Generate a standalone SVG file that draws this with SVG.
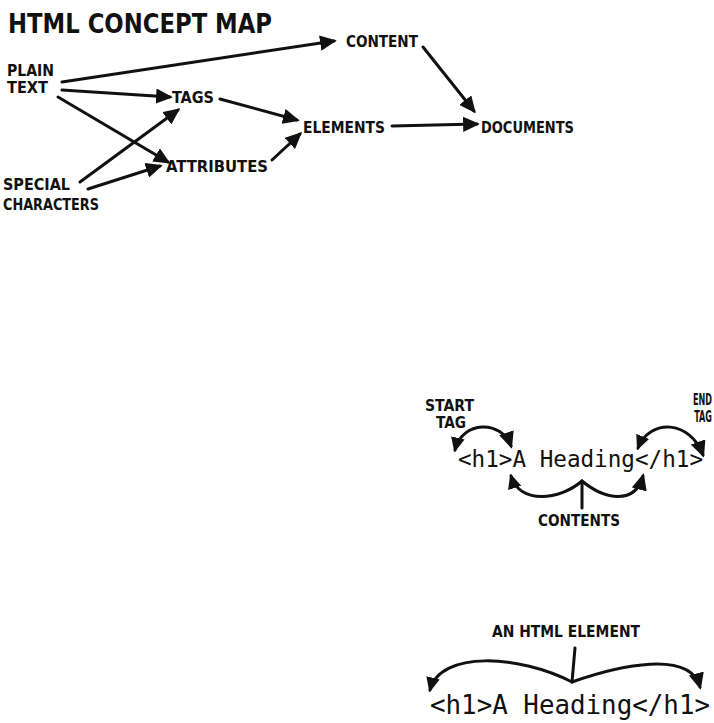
<svg xmlns="http://www.w3.org/2000/svg" width="714" height="723" viewBox="0 0 714 723">
<style>
.lbl{font-family:"DejaVu Sans Condensed","DejaVu Sans",sans-serif;font-weight:bold;fill:#111;font-size:15px}
.ttl{font-family:"DejaVu Sans Condensed","DejaVu Sans",sans-serif;font-weight:bold;fill:#111;font-size:27px}
.code{font-family:"DejaVu Sans Mono","Liberation Mono",monospace;fill:#111}
.c{fill:none;stroke:#111;stroke-width:3;stroke-linecap:round}
</style>
<defs>
<marker id="ah" viewBox="0 0 12 11" refX="10" refY="5.5" markerWidth="5.6" markerHeight="5.1" orient="auto" markerUnits="strokeWidth">
<path d="M0,0 L12,5.5 L0,11 Z" fill="#111"/>
</marker>
<marker id="ahs" viewBox="0 0 12 11" refX="10" refY="5.5" markerWidth="5" markerHeight="4.6" orient="auto-start-reverse" markerUnits="strokeWidth">
<path d="M0,0 L12,5.5 L0,11 Z" fill="#111"/>
</marker>
</defs>
<rect width="714" height="723" fill="#fff"/>
<text class="ttl" x="8" y="33" textLength="264" lengthAdjust="spacingAndGlyphs">HTML CONCEPT MAP</text>
<g id="plain-text"><text class="lbl" x="7" y="76" textLength="47" lengthAdjust="spacingAndGlyphs">PLAIN</text><text class="lbl" x="7" y="93" textLength="41" lengthAdjust="spacingAndGlyphs">TEXT</text></g>
<g id="content"><text class="lbl" x="346" y="47" textLength="72" lengthAdjust="spacingAndGlyphs">CONTENT</text></g>
<g id="tags"><text class="lbl" x="172" y="103" textLength="42" lengthAdjust="spacingAndGlyphs">TAGS</text></g>
<g id="elements"><text class="lbl" x="303" y="133" textLength="82" lengthAdjust="spacingAndGlyphs">ELEMENTS</text></g>
<g id="documents"><text class="lbl" x="481" y="133" textLength="93" lengthAdjust="spacingAndGlyphs">DOCUMENTS</text></g>
<g id="attributes"><text class="lbl" x="166" y="172" textLength="102" lengthAdjust="spacingAndGlyphs">ATTRIBUTES</text></g>
<g id="special-characters"><text class="lbl" x="3" y="190" textLength="67" lengthAdjust="spacingAndGlyphs">SPECIAL</text><text class="lbl" x="3" y="210" textLength="96" lengthAdjust="spacingAndGlyphs">CHARACTERS</text></g>
<g id="connectors">
<line class="c" x1="62" y1="82" x2="334" y2="41" marker-end="url(#ah)"/>
<line class="c" x1="62" y1="90" x2="170" y2="97" marker-end="url(#ah)"/>
<line class="c" x1="58" y1="97" x2="168" y2="162" marker-end="url(#ah)"/>
<line class="c" x1="80" y1="182" x2="178" y2="110" marker-end="url(#ah)"/>
<line class="c" x1="88" y1="189" x2="160" y2="166" marker-end="url(#ah)"/>
<line class="c" x1="220" y1="99" x2="297" y2="120" marker-end="url(#ah)"/>
<line class="c" x1="272" y1="160" x2="300" y2="134" marker-end="url(#ah)"/>
<line class="c" x1="423" y1="47" x2="474" y2="111" marker-end="url(#ah)"/>
<line class="c" x1="392" y1="126" x2="477" y2="124" marker-end="url(#ah)"/>
</g>
<g id="element-anatomy">
<text class="lbl" x="425" y="411" textLength="49" lengthAdjust="spacingAndGlyphs">START</text>
<text class="lbl" x="436" y="428" textLength="30" lengthAdjust="spacingAndGlyphs">TAG</text>
<text class="lbl" transform="translate(712,405) scale(0.6,1)" text-anchor="end">END</text>
<text class="lbl" transform="translate(712,422) scale(0.6,1)" text-anchor="end">TAG</text>
<text class="code" x="458" y="467" font-size="22.6" textLength="245" lengthAdjust="spacingAndGlyphs">&lt;h1&gt;A Heading&lt;/h1&gt;</text>
<text class="lbl" x="538" y="526" textLength="82" lengthAdjust="spacingAndGlyphs">CONTENTS</text>
<path class="c" d="M455,450 C462,420 502,420 511,446" marker-start="url(#ahs)" marker-end="url(#ah)"/>
<path class="c" d="M638,448 C650,418 690,420 703,455" marker-start="url(#ahs)" marker-end="url(#ah)"/>
<path class="c" d="M511,476 C520,505 560,500 582,481 C605,500 635,505 643,476" marker-start="url(#ahs)" marker-end="url(#ah)"/>
<line class="c" x1="582" y1="481" x2="582" y2="508"/>
</g>
<g id="html-element">
<text class="lbl" x="492" y="637" textLength="148" lengthAdjust="spacingAndGlyphs">AN HTML ELEMENT</text>
<line class="c" x1="575" y1="648" x2="572" y2="682"/>
<path class="c" d="M430,690 C440,650 520,655 572,682 C620,665 690,650 700,687" marker-start="url(#ahs)" marker-end="url(#ah)"/>
<text class="code" x="430" y="714" font-size="26" textLength="280" lengthAdjust="spacingAndGlyphs">&lt;h1&gt;A Heading&lt;/h1&gt;</text>
</g>
</svg>
